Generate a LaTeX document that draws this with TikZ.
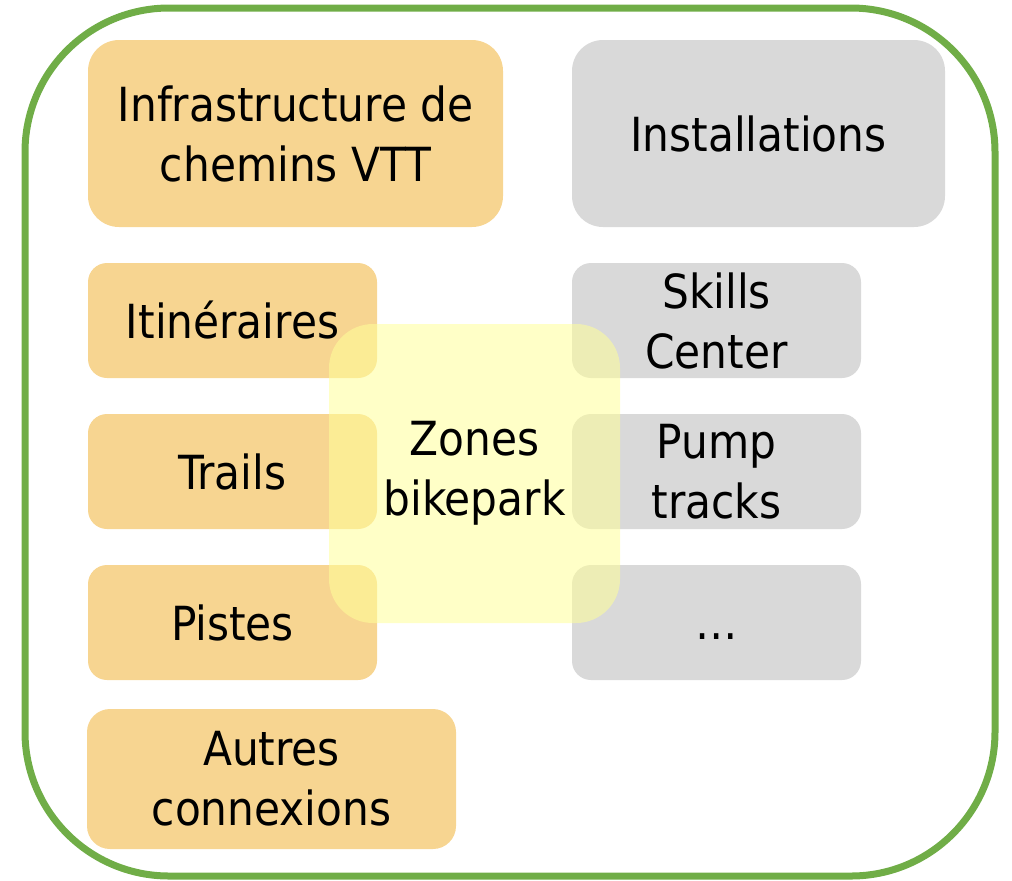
\documentclass[tikz,border=0pt]{standalone}
\usepackage{fontspec}
\setmainfont{DejaVu Sans Condensed}
\definecolor{boxorange}{HTML}{F7D591}
\definecolor{boxgray}{HTML}{D9D9D9}
\definecolor{zoneyellow}{HTML}{FFFF99}
\definecolor{framegreen}{HTML}{70AD47}
\tikzset{
  lbl/.style={font=\fontsize{23.5}{30}\selectfont, align=center, text=black},
  obox/.style={fill=boxorange, draw=none, inner sep=0pt, lbl},
  gbox/.style={fill=boxgray, draw=none, inner sep=0pt, lbl},
}
\begin{document}
\begin{tikzpicture}[x=0.5pt,y=-0.5pt]
\useasboundingbox (0,0) rectangle (1012,880);
% outer frame
\draw[framegreen, line width=3.5pt, rounded corners=72pt] (25,8) rectangle (995,876);
% left column
\node[obox, rounded corners=15.5pt, minimum width=207.5pt, minimum height=93.5pt] (infra) at (295.5,133.5) {Infrastructure de\\chemins VTT};
\node[obox, rounded corners=9.5pt, minimum width=144.5pt, minimum height=57.5pt] (itin) at (232.5,320.5) {Itinéraires};
\node[obox, rounded corners=9.5pt, minimum width=144.5pt, minimum height=57.5pt] (trails) at (232.5,471.5) {Trails};
\node[obox, rounded corners=9.5pt, minimum width=144.5pt, minimum height=57.5pt] (pistes) at (232.5,622.5) {Pistes};
\node[obox, rounded corners=11.5pt, minimum width=184.5pt, minimum height=70pt] (autres) at (271.5,779) {Autres\\connexions};
% right column
\node[gbox, rounded corners=15.5pt, minimum width=186.5pt, minimum height=93.5pt] (inst) at (758.5,133.5) {Installations};
\node[gbox, rounded corners=9.5pt, minimum width=144.5pt, minimum height=57.5pt] (skills) at (716.5,320.5) {Skills\\Center};
\node[gbox, rounded corners=9.5pt, minimum width=144.5pt, minimum height=57.5pt] (pump) at (716.5,471.5) {Pump\\tracks};
\node[gbox, rounded corners=9.5pt, minimum width=144.5pt, minimum height=57.5pt] (more) at (716.5,622.5) {\vphantom{I}…};
% overlay zone
\node[fill=zoneyellow, fill opacity=0.55, text opacity=1, inner sep=0pt, rounded corners=22pt, minimum width=145.5pt, minimum height=149.5pt, lbl] (zones) at (474.5,473.5) {Zones\\bikepark};
\end{tikzpicture}
\end{document}
